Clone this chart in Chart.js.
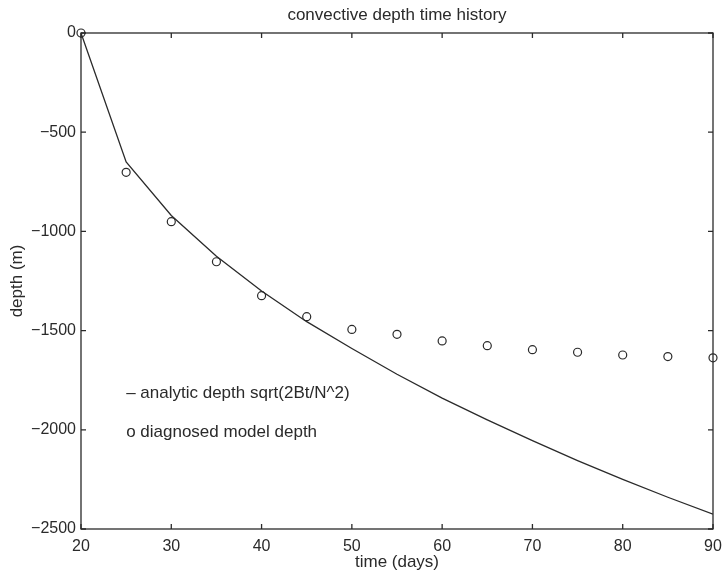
<!DOCTYPE html>
<html>
<head>
<meta charset="utf-8">
<script src="https://cdn.jsdelivr.net/npm/chart.js@4/dist/chart.umd.min.js"></script>
<style>
  html, body { margin: 0; padding: 0; background: #fff; }
  #wrap { width: 722px; height: 575px; }
</style>
</head>
<body>
<div id="wrap"><canvas id="c" width="722" height="575"></canvas></div>
<script>
// time axis (days)
const days = [20, 25, 30, 35, 40, 45, 50, 55, 60, 65, 70, 75, 80, 85, 90];
// analytic depth sqrt(2Bt/N^2)
const analyticDepth = [0, -650, -920, -1125, -1300, -1455, -1590, -1720, -1840, -1950, -2055, -2155, -2250, -2340, -2425];
// diagnosed model depth
const modelDepth = [0, -702, -951, -1153, -1324, -1430, -1494, -1519, -1552, -1576, -1596, -1609, -1623, -1631, -1637];

const xTicks = [20, 30, 40, 50, 60, 70, 80, 90];
const yTicks = [-2500, -2000, -1500, -1000, -500, 0];

const chartTitle = "convective depth time history";
// in-plot text key (MATLAB-style text, placed in data units)
const noteLines = ["\u2013 analytic depth sqrt(2Bt/N^2)", "o diagnosed model depth"];
const noteX = [25, 25];
const noteY = [-1814, -2011];

const ink = "#2a2a2a";
const fam = "'Liberation Sans', Arial, Helvetica, sans-serif";

const pts = (ys) => days.map((d, i) => ({ x: d, y: ys[i] }));

// box round the axes with inward ticks on all four sides, title over the axes, text key
const boxPlugin = {
  id: "box",
  afterDatasetsDraw(chart) {
    const { ctx, chartArea: a, scales } = chart;
    const len = 5;
    ctx.save();
    ctx.strokeStyle = ink;
    ctx.lineWidth = 1.3;
    ctx.strokeRect(a.left, a.top, a.right - a.left, a.bottom - a.top);
    ctx.beginPath();
    for (const v of xTicks) {
      const px = scales.x.getPixelForValue(v);
      ctx.moveTo(px, a.bottom); ctx.lineTo(px, a.bottom - len);
      ctx.moveTo(px, a.top); ctx.lineTo(px, a.top + len);
    }
    for (const v of yTicks) {
      const py = scales.y.getPixelForValue(v);
      ctx.moveTo(a.left, py); ctx.lineTo(a.left + len, py);
      ctx.moveTo(a.right, py); ctx.lineTo(a.right - len, py);
    }
    ctx.stroke();

    ctx.fillStyle = ink;
    ctx.font = "17px " + fam;
    ctx.textBaseline = "middle";
    ctx.textAlign = "center";
    ctx.fillText(chartTitle, (a.left + a.right) / 2, a.top - 18);
    ctx.textAlign = "left";
    noteLines.forEach((t, i) => {
      ctx.fillText(t, scales.x.getPixelForValue(noteX[i]), scales.y.getPixelForValue(noteY[i]));
    });
    ctx.restore();
  },
};

new Chart(document.getElementById("c"), {
  type: "scatter",
  data: {
    datasets: [
      {
        label: "analytic",
        data: pts(analyticDepth),
        showLine: true,
        borderColor: ink,
        borderWidth: 1.3,
        pointRadius: 0,
        tension: 0,
      },
      {
        label: "model",
        data: pts(modelDepth),
        showLine: false,
        pointStyle: "circle",
        pointRadius: 4,
        pointBorderWidth: 1.2,
        pointBorderColor: ink,
        pointBackgroundColor: "rgba(0,0,0,0)",
        clip: false,
      },
    ],
  },
  options: {
    responsive: false,
    animation: false,
    layout: { padding: { top: 33, right: 0, bottom: 0, left: 0 } },
    plugins: {
      legend: { display: false },
      tooltip: { enabled: false },
      title: { display: false },
    },
    scales: {
      x: {
        type: "linear",
        min: 20,
        max: 90,
        afterBuildTicks: (s) => { s.ticks = xTicks.map((v) => ({ value: v })); },
        afterFit: (s) => { s.height = 46; s.paddingRight = 9; },
        grid: { display: false, drawTicks: false },
        border: { display: false },
        ticks: { color: ink, padding: 8, font: { family: fam, size: 16 } },
        title: {
          display: true,
          text: "time (days)",
          color: ink,
          font: { family: fam, size: 17 },
          padding: { top: 0, bottom: 2 },
        },
      },
      y: {
        type: "linear",
        min: -2500,
        max: 0,
        afterBuildTicks: (s) => { s.ticks = yTicks.map((v) => ({ value: v })); },
        afterFit: (s) => { s.width = 81; s.paddingTop = 0; },
        grid: { display: false, drawTicks: false },
        border: { display: false },
        ticks: {
          color: ink,
          padding: 5,
          font: { family: fam, size: 16 },
          callback: (v) => (v < 0 ? "\u2212" + Math.abs(v) : String(v)),
        },
        title: {
          display: true,
          text: "depth (m)",
          color: ink,
          font: { family: fam, size: 17 },
          padding: { top: 7, bottom: 0 },
        },
      },
    },
  },
  plugins: [boxPlugin],
});
</script>
</body>
</html>
